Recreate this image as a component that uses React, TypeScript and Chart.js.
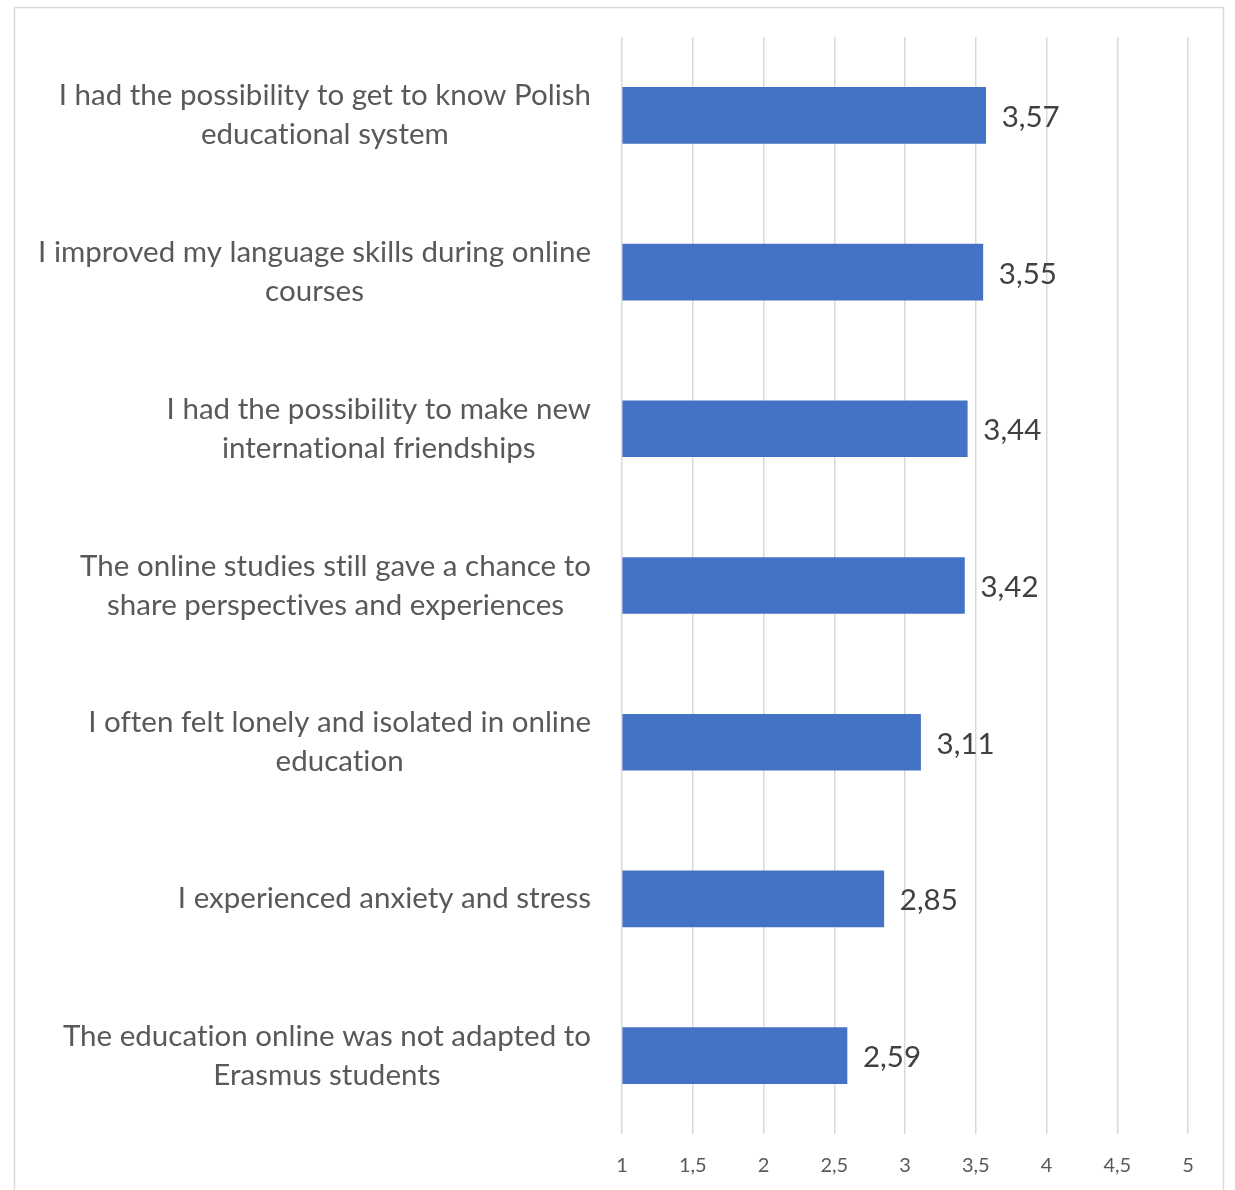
import React, { useEffect, useRef } from "react";
import { Chart, registerables } from "chart.js";

Chart.register(...registerables);

const categories: string[][] = [
  ["I had the possibility to get to know Polish", "educational system"],
  ["I improved my language skills during online", "courses"],
  ["I had the possibility to make new", "international friendships"],
  ["The online studies still gave a chance to", "share perspectives and experiences"],
  ["I often felt lonely and isolated in online", "education"],
  ["I experienced anxiety and stress"],
  ["The education online was not adapted to", "Erasmus students"],
];
const values: number[] = [3.57, 3.55, 3.44, 3.42, 3.11, 2.85, 2.59];
const xMin = 1;
const xMax = 5;
const xStep = 0.5;

const FONT = "Lato, 'Noto Sans', sans-serif";
const BAR_COLOR = "#4472C4";
const GRID_COLOR = "#D9D9D9";
const TEXT_COLOR = "#595959";
const LABEL_COLOR = "#404040";
const CAT_SIZE = 29.5;
const CAT_LINE = 39;
const TICK_SIZE = 20;

const fmt = (v: number) => String(v).replace(".", ",");

const framePlugin = {
  id: "frame",
  beforeDraw(chart: any) {
    const ctx = chart.ctx;
    ctx.save();
    ctx.fillStyle = "#ffffff";
    ctx.fillRect(0, 0, chart.width, chart.height);
    ctx.strokeStyle = GRID_COLOR;
    ctx.lineWidth = 1.5;
    ctx.strokeRect(14.5, 7.5, 1209, 1200);
    ctx.restore();
  },
};

const labelsPlugin = {
  id: "customLabels",
  afterDraw(chart: any) {
    const ctx = chart.ctx;
    const yScale = chart.scales.y;
    const xScale = chart.scales.x;
    const right = chart.chartArea.left - 31;
    ctx.save();
    ctx.font = `${CAT_SIZE}px ${FONT}`;
    try {
      (ctx as any).letterSpacing = "0.01px";
    } catch (e) {}
    ctx.fillStyle = TEXT_COLOR;
    ctx.textBaseline = "middle";
    ctx.textAlign = "center";
    categories.forEach((lines, i) => {
      const yc = yScale.getPixelForValue(i);
      const w = Math.max(...lines.map((l) => ctx.measureText(l).width));
      const cx = right - w / 2;
      lines.forEach((line, j) => {
        const y = yc + (j - (lines.length - 1) / 2) * CAT_LINE;
        ctx.fillText(line, cx, y);
      });
    });
    ctx.fillStyle = LABEL_COLOR;
    ctx.textAlign = "left";
    values.forEach((v, i) => {
      const x = xScale.getPixelForValue(v) + 16;
      const y = yScale.getPixelForValue(i) + 2;
      ctx.fillText(fmt(v), x, y);
    });
    ctx.restore();
  },
};

export default function App() {
  const ref = useRef<HTMLCanvasElement | null>(null);
  useEffect(() => {
    if (!ref.current) return;
    const chart = new Chart(ref.current, {
      type: "bar",
      data: {
        labels: categories.map((c) => c.join(" ")),
        datasets: [
          {
            data: values,
            backgroundColor: BAR_COLOR,
            borderWidth: 0,
            barThickness: 56,
            base: xMin,
          } as any,
        ],
      },
      options: {
        indexAxis: "y",
        animation: false,
        responsive: false,
        maintainAspectRatio: false,
        layout: { padding: { top: 37, right: 47, bottom: 0, left: 0 } },
        plugins: {
          legend: { display: false },
          tooltip: { enabled: false },
        },
        scales: {
          x: {
            type: "linear",
            min: xMin,
            max: xMax,
            grid: { color: GRID_COLOR, lineWidth: 1.5, drawTicks: false },
            border: { display: false },
            ticks: {
              stepSize: xStep,
              padding: 20,
              color: TEXT_COLOR,
              font: { family: FONT, size: TICK_SIZE },
              callback: (v: any) => fmt(Number(v)),
            },
            afterFit: (scale: any) => {
              scale.height = 56;
            },
          },
          y: {
            grid: { display: false, drawTicks: false },
            border: { display: false },
            ticks: { display: false },
            afterFit: (scale: any) => {
              scale.width = 622;
            },
          },
        },
      },
      plugins: [framePlugin, labelsPlugin],
    });
    return () => chart.destroy();
  }, []);
  return (
    <div style={{ position: "absolute", left: 0, top: 0, width: 1235, height: 1190 }}>
      <canvas ref={ref} width={1235} height={1190} style={{ display: "block" }} />
    </div>
  );
}
